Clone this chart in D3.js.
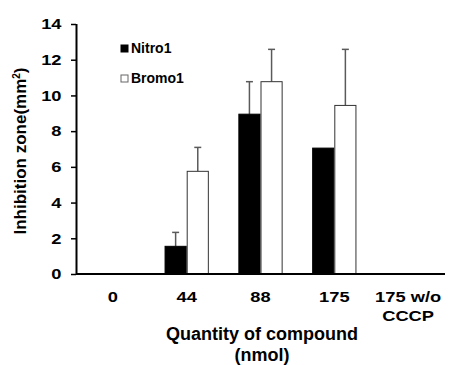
<!DOCTYPE html>
<html><head><meta charset="utf-8">
<script src="https://cdn.jsdelivr.net/npm/d3@7"></script>
<style>body{margin:0;background:#fff}svg{display:block}text{font-family:"Liberation Sans",Arial,sans-serif;font-weight:bold;fill:#000}</style>
</head><body><div id="chart"></div>
<script>
const categories = ["0", "44", "88", "175", "175 w/o\nCCCP"];
const seriesNames = ["Nitro1", "Bromo1"];
const nitroValues = [0, 1.55, 8.95, 7.05, 0];
const nitroErrors = [null, 0.78, 1.82, null, null];
const bromoValues = [0, 5.75, 10.77, 9.44, 0];
const bromoErrors = [null, 1.34, 1.81, 3.14, null];
const yTicks = [0, 2, 4, 6, 8, 10, 12, 14];
const yTitle = "Inhibition zone(mm²)";
const xTitle = ["Quantity of compound", "(nmol)"];

const W = 451, H = 365;
const m = {left: 76, right: 6, top: 24, bottom: 91};
const SX = 1.22; // horizontal stretch of the original lettering
const svg = d3.select("#chart").append("svg").attr("width", W).attr("height", H);

const x0 = d3.scaleBand().domain(categories).range([m.left, W - m.right]).padding(0);
const x1 = d3.scaleBand().domain(seriesNames).range([x0.bandwidth() * 0.2, x0.bandwidth() * 0.8]).padding(0);
const y = d3.scaleLinear().domain([0, 14]).range([H - m.bottom, m.top]);

const series = [
  {name: seriesNames[0], values: nitroValues, errors: nitroErrors, fill: "#000", stroke: "#000"},
  {name: seriesNames[1], values: bromoValues, errors: bromoErrors, fill: "#fff", stroke: "#333"}
];

// error bars
series.forEach(s => {
  const g = svg.append("g");
  categories.forEach((c, i) => {
    const e = s.errors[i];
    if (e == null) return;
    const cx = x0(c) + x1(s.name) + x1.bandwidth() / 2;
    const col = "#5a5a5a";
    g.append("line").attr("x1", cx).attr("x2", cx).attr("y1", y(s.values[i])).attr("y2", y(s.values[i] + e))
      .attr("stroke", col).attr("stroke-width", 1.5);
    g.append("line").attr("x1", cx - 3.5).attr("x2", cx + 3.5).attr("y1", y(s.values[i] + e)).attr("y2", y(s.values[i] + e))
      .attr("stroke", col).attr("stroke-width", 1.5);
  });
});

// bars
series.forEach(s => {
  svg.append("g").selectAll("rect").data(categories.map((c, i) => ({c, v: s.values[i]})).filter(d => d.v > 0))
    .join("rect")
    .attr("x", d => x0(d.c) + x1(s.name) + 0.5)
    .attr("width", x1.bandwidth() - 1)
    .attr("y", d => y(d.v))
    .attr("height", d => y(0) - y(d.v))
    .attr("fill", s.fill).attr("stroke", s.stroke).attr("stroke-width", 1);
});

// y axis
const yAxis = svg.append("g").attr("transform", `translate(${m.left},0)`)
  .call(d3.axisLeft(y).tickValues(yTicks).tickSize(5).tickPadding(8));
yAxis.select(".domain").attr("stroke", "#000").attr("stroke-width", 2).attr("d", `M0.5,${y(14)}V${y(0)}`);
yAxis.selectAll(".tick line").attr("stroke", "#000").attr("stroke-width", 1.5);
yAxis.selectAll(".tick text").style("font-size", "15px").attr("font-family", null)
  .attr("x", -14.5 / SX).attr("transform", `scale(${SX},1)`);

// x axis
const xAxis = svg.append("g").attr("transform", `translate(0,${y(0)})`)
  .call(d3.axisBottom(x0).tickSize(0).tickPadding(0).tickFormat(""));
xAxis.select(".domain").attr("stroke", "#000").attr("stroke-width", 2).attr("d", `M${m.left},0H${W - m.right}`);
xAxis.selectAll(".tick").each(function(d) {
  const lines = d.split("\n");
  const t = d3.select(this).append("text").attr("text-anchor", "middle").style("font-size", "15px")
    .attr("transform", `scale(${SX},1)`);
  lines.forEach((ln, k) => t.append("tspan").attr("x", 0).attr("y", 28 + k * 19).text(ln));
});

// axis titles
svg.append("text").attr("transform", `translate(26,${(y(0) + y(14)) / 2 + 2}) rotate(-90)`)
  .attr("text-anchor", "middle").style("font-size", "17px")
  .html('Inhibition zone(mm<tspan dy="-6" style="font-size:10px">2</tspan><tspan dy="6">)</tspan>');
xTitle.forEach((t, k) => svg.append("text").attr("x", 262).attr("y", 340 + k * 21)
  .attr("text-anchor", "middle").style("font-size", "18px").text(t));

// legend
const leg = svg.append("g");
series.forEach((s, i) => {
  const ly = 50 + i * 30;
  leg.append("rect").attr("x", 121).attr("y", ly - 5).attr("width", 7).attr("height", 7)
    .attr("fill", s.fill).attr("stroke", s.name === "Bromo1" ? "#666" : "#000").attr("stroke-width", 1);
  leg.append("text").attr("x", 131).attr("y", ly + 3).style("font-size", "14px").text(s.name);
});
</script></body></html>
